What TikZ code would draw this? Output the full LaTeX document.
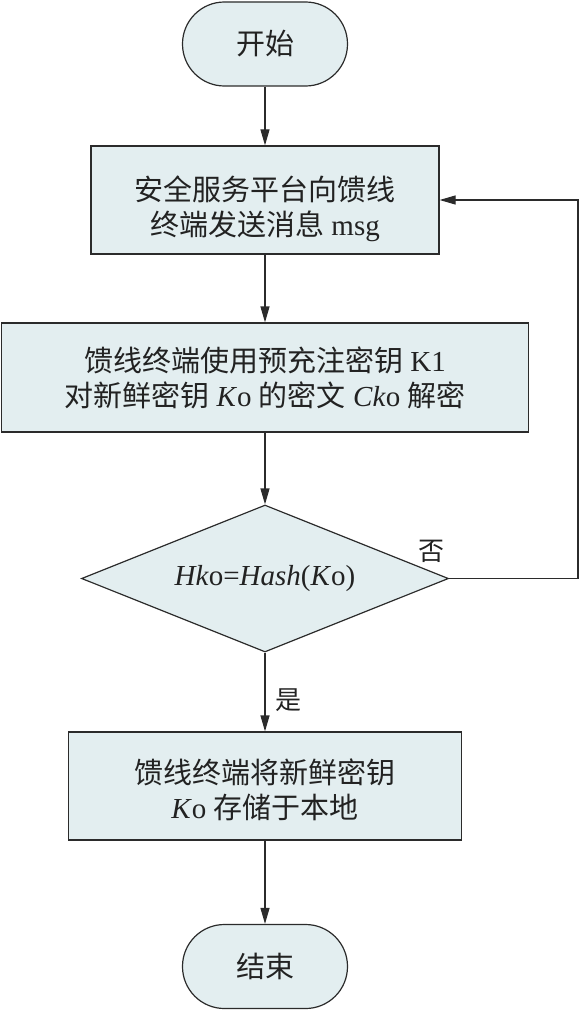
\documentclass[tikz,border=0pt]{standalone}
\usepackage{fontspec}
\setmainfont{Liberation Serif}
\newfontfamily\cjk{Noto Sans CJK SC}
\usetikzlibrary{shapes.geometric,arrows.meta}
\definecolor{linec}{HTML}{2B2B2B}
\definecolor{fillc}{HTML}{E3EEF0}
\definecolor{textc}{HTML}{222222}
\begin{document}
\begin{tikzpicture}[x=1pt,y=-1pt,
 base/.style={draw=linec, line width=1.2pt, fill=fillc, text=textc, font=\fontsize{29}{35}\selectfont, align=center, inner sep=0pt},
 term/.style={base, minimum width=165pt, minimum height=84pt, rounded corners=41.9pt},
 proc/.style={base, minimum height=108pt},
 dec/.style={base, diamond, minimum width=367pt, minimum height=147pt, aspect=2.5},
 arr/.style={draw=linec, line width=1.2pt, -{Triangle[length=16pt,width=9pt]}},
 lbl/.style={text=textc, font=\cjk\fontsize{26}{26}\selectfont, inner sep=0pt}]
\useasboundingbox (0,0) rectangle (579,1011);
\node[term] (start) at (265,44) {{\cjk 开始}};
\node[proc, minimum width=348pt] (p1) at (265,200) {\rule{0pt}{43pt}{\cjk 安全服务平台向馈线}\\{\cjk 终端发送消息} msg};
\node[proc, minimum width=527pt, minimum height=109pt] (p2) at (265,377.5) {{\cjk 馈线终端使用预充注密钥} K1\\{\cjk 对新鲜密钥} \textit{K}o {\cjk 的密文} \textit{Ck}o {\cjk 解密}};
\node[dec] (d) at (265,578.5) {\textit{Hk}o=\textit{Hash}(\textit{K}o)};
\node[proc, minimum width=393pt] (p3) at (265,786) {\rule{0pt}{33pt}{\cjk 馈线终端将新鲜密钥}\\\textit{K}o {\cjk 存储于本地}};
\node[term] (end) at (265,966.5) {{\cjk 结束}};
\coordinate (c1) at (578,578.5);
\coordinate (c2) at (578,200);
\draw[arr] (start) -- (p1);
\draw[arr] (p1) -- (p2);
\draw[arr] (p2) -- (d);
\draw[arr] (d) -- (p3);
\draw[arr] (p3) -- (end);
\draw[arr] (d.east) -- (c1) -- (c2) -- (p1.east);
\node[lbl] (yes) at (288,700) {是};
\node[lbl] (no) at (431,551) {否};
\end{tikzpicture}
\end{document}
